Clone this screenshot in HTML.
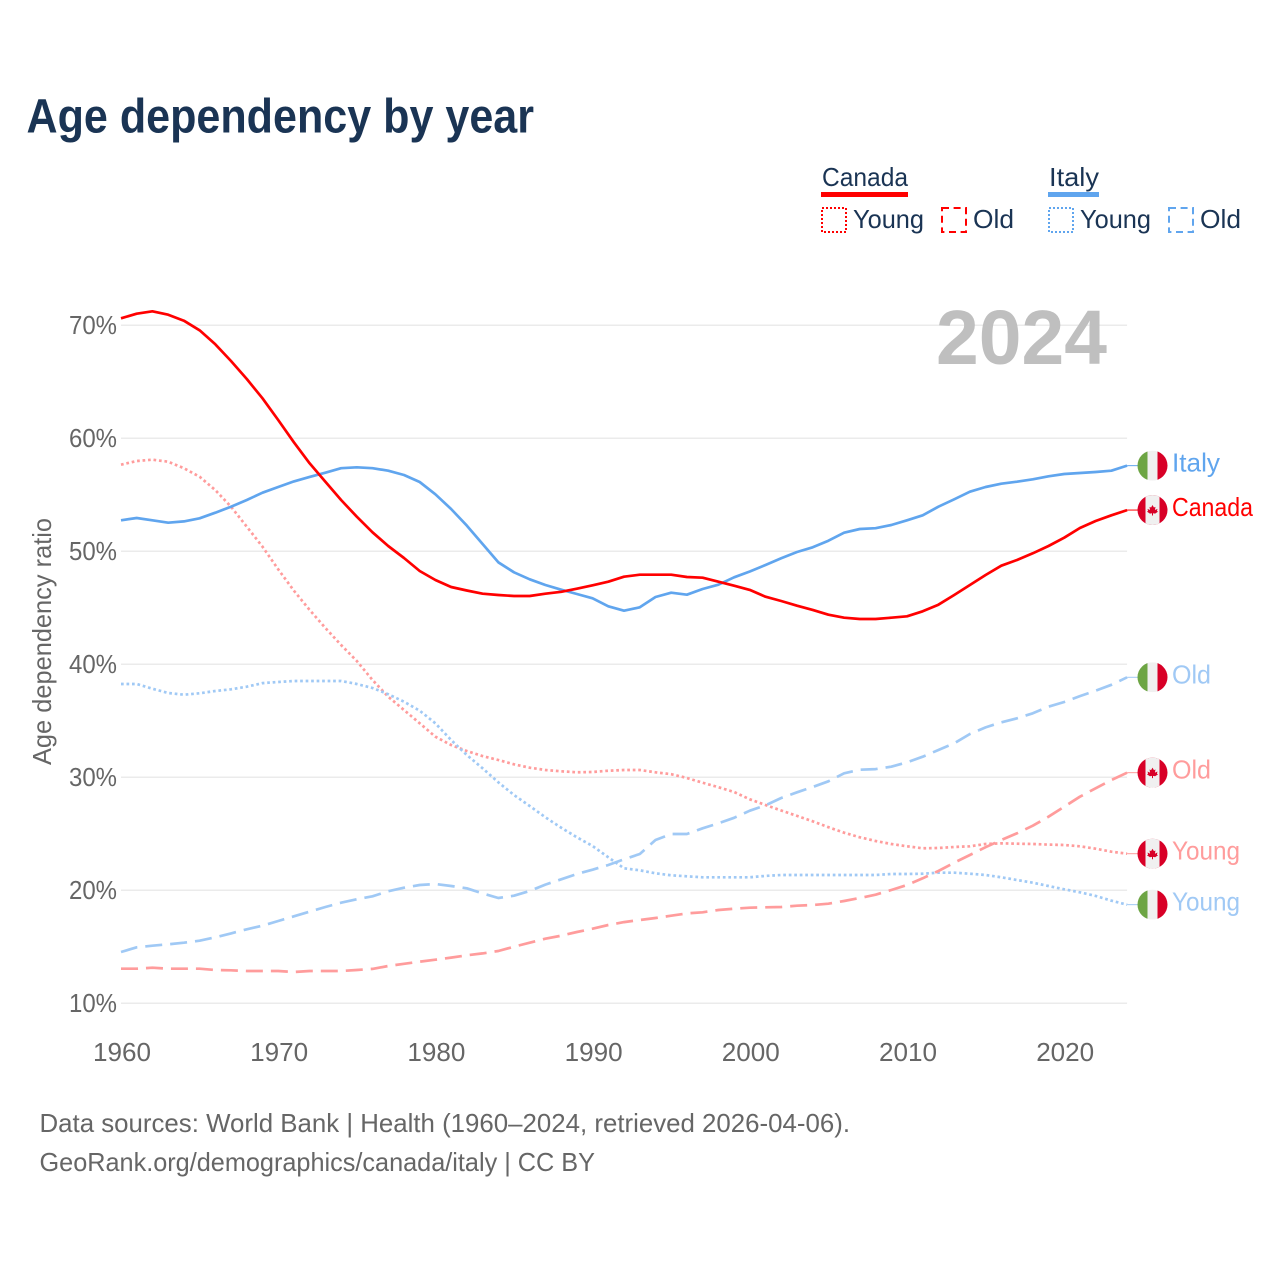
<!DOCTYPE html>
<html lang="en">
<head>
<meta charset="utf-8">
<title>Age dependency by year</title>
<style>
html,body{margin:0;padding:0;background:#fff;width:1280px;height:1280px;overflow:hidden}
svg{display:block;font-family:"Liberation Sans",sans-serif}
</style>
</head>
<body>
<svg id="chart" xmlns="http://www.w3.org/2000/svg" width="1280" height="1280" viewBox="0 0 1280 1280">
  <defs>
    <clipPath id="flag-clip"><circle cx="0" cy="0" r="15"></circle></clipPath>
  </defs>
  <rect x="0" y="0" width="1280" height="1280" fill="#ffffff"></rect>
  <text x="26.5" y="132.5" font-size="48" font-weight="700" fill="#1a3454" textLength="507.5" lengthAdjust="spacingAndGlyphs">Age dependency by year</text>

  <g font-size="26" fill="#1a3454">
    <text x="822" y="186" textLength="86" lengthAdjust="spacingAndGlyphs">Canada</text>
    <rect x="821" y="192" width="87" height="5" fill="#ff0000"></rect>
    <rect x="822" y="208" width="24" height="24" fill="none" stroke="#ff0000" stroke-width="2" stroke-dasharray="2 2"></rect>
    <text x="853" y="228" textLength="71" lengthAdjust="spacingAndGlyphs">Young</text>
    <rect x="942" y="208" width="24" height="24" fill="none" stroke="#ff0000" stroke-width="2" stroke-dasharray="7 4.6"></rect>
    <text x="973" y="228" textLength="41" lengthAdjust="spacingAndGlyphs">Old</text>

    <text x="1049" y="186" textLength="50" lengthAdjust="spacingAndGlyphs">Italy</text>
    <rect x="1048" y="192" width="51" height="5" fill="#60a5ee"></rect>
    <rect x="1049" y="208" width="24" height="24" fill="none" stroke="#60a5ee" stroke-width="2" stroke-dasharray="2 2"></rect>
    <text x="1080" y="228" textLength="71" lengthAdjust="spacingAndGlyphs">Young</text>
    <rect x="1169" y="208" width="24" height="24" fill="none" stroke="#60a5ee" stroke-width="2" stroke-dasharray="7 4.6"></rect>
    <text x="1200" y="228" textLength="41" lengthAdjust="spacingAndGlyphs">Old</text>
  </g>

  <g id="grid"></g>
  <text x="936" y="364" font-size="77" font-weight="700" fill="#bfbfbf" textLength="171" lengthAdjust="spacingAndGlyphs">2024</text>
  <g id="y-ticks"></g>
  <g id="x-ticks"></g>
  <text x="51" y="765" transform="rotate(-90 51 765)" font-size="26" fill="#666666" textLength="247" lengthAdjust="spacingAndGlyphs">Age dependency ratio</text>
  <g id="series"></g>
  <g id="ends"></g>

  <text x="39.5" y="1132" font-size="26" fill="#666666" textLength="810.5" lengthAdjust="spacingAndGlyphs">Data sources: World Bank | Health (1960–2024, retrieved 2026-04-06).</text>
  <text x="39.5" y="1171" font-size="26" fill="#666666" textLength="555.5" lengthAdjust="spacingAndGlyphs">GeoRank.org/demographics/canada/italy | CC BY</text>
</svg>
<script>
const startYear = 1960;
const xTickYears = [1960, 1970, 1980, 1990, 2000, 2010, 2020];
const yTickValues = [10, 20, 30, 40, 50, 60, 70];

const canadaTotal = [70.62,71.03,71.24,70.94,70.41,69.56,68.32,66.84,65.25,63.54,61.62,59.65,57.79,56.16,54.54,53.06,51.68,50.47,49.41,48.26,47.46,46.84,46.53,46.25,46.13,46.04,46.04,46.25,46.42,46.69,46.99,47.31,47.75,47.93,47.93,47.93,47.73,47.66,47.31,46.96,46.58,45.98,45.60,45.19,44.81,44.39,44.12,44.01,44.01,44.12,44.25,44.69,45.27,46.13,47.02,47.90,48.73,49.23,49.82,50.47,51.20,52.06,52.68,53.19,53.65];
const italyTotal = [52.74,52.95,52.74,52.53,52.65,52.92,53.42,53.95,54.54,55.19,55.69,56.19,56.58,56.96,57.35,57.43,57.35,57.13,56.75,56.13,55.04,53.74,52.27,50.65,49.03,48.14,47.52,47.02,46.60,46.22,45.84,45.13,44.74,45.04,45.96,46.34,46.16,46.66,47.04,47.70,48.21,48.79,49.38,49.94,50.35,50.94,51.65,51.97,52.04,52.33,52.74,53.19,53.95,54.60,55.27,55.69,55.98,56.16,56.37,56.64,56.84,56.93,57.02,57.13,57.58];
const canadaYoung = [57.66,57.99,58.11,57.93,57.35,56.60,55.42,53.95,52.18,50.41,48.41,46.51,44.81,43.21,41.71,40.29,38.61,37.13,35.96,34.78,33.59,32.86,32.33,31.88,31.53,31.15,30.85,30.65,30.53,30.44,30.47,30.58,30.65,30.65,30.44,30.27,29.94,29.52,29.12,28.70,28.05,27.55,27.06,26.58,26.11,25.58,25.10,24.69,24.36,24.10,23.89,23.72,23.74,23.83,23.89,24.10,24.16,24.12,24.10,24.04,24.01,23.89,23.68,23.42,23.24];
const canadaOld = [13.06,13.06,13.15,13.06,13.06,13.06,12.95,12.92,12.86,12.86,12.86,12.77,12.86,12.86,12.86,12.95,13.04,13.30,13.50,13.68,13.86,14.04,14.25,14.42,14.63,15.01,15.36,15.72,15.98,16.31,16.60,16.93,17.19,17.37,17.55,17.75,17.96,18.05,18.26,18.37,18.46,18.50,18.52,18.64,18.70,18.81,19.05,19.32,19.61,20.03,20.47,21.06,21.71,22.44,23.12,23.81,24.45,25.04,25.72,26.51,27.40,28.28,29.03,29.76,30.41];
const italyYoung = [38.26,38.26,37.84,37.46,37.31,37.43,37.64,37.79,38.02,38.34,38.43,38.52,38.52,38.52,38.52,38.26,37.90,37.35,36.69,35.89,34.78,33.30,31.97,30.80,29.56,28.43,27.46,26.46,25.54,24.69,23.92,22.92,21.95,21.77,21.50,21.33,21.24,21.15,21.15,21.15,21.15,21.27,21.35,21.35,21.35,21.35,21.35,21.35,21.35,21.44,21.44,21.47,21.56,21.56,21.47,21.35,21.15,20.91,20.67,20.38,20.09,19.82,19.50,19.08,18.73];
const italyOld = [14.54,14.96,15.10,15.22,15.36,15.54,15.84,16.19,16.55,16.87,17.28,17.70,18.11,18.52,18.90,19.20,19.47,19.91,20.23,20.47,20.56,20.38,20.18,19.73,19.32,19.52,19.94,20.50,20.97,21.44,21.82,22.24,22.74,23.21,24.45,24.98,24.98,25.49,25.93,26.42,27.04,27.52,28.17,28.67,29.14,29.65,30.35,30.67,30.73,30.94,31.33,31.82,32.42,33.01,33.83,34.42,34.87,35.22,35.66,36.25,36.66,37.19,37.66,38.19,38.85];

const NS = 'http://www.w3.org/2000/svg';
const xScale = function (year) { return 121 + (year - startYear) * 15.72; };
const yScale = function (v) { return 1003.3 - (v - 10) * 11.3; };
const make = function (parent, tag, attrs, text) {
  const el = document.createElementNS(NS, tag);
  Object.keys(attrs).forEach(function (k) { el.setAttribute(k, attrs[k]); });
  if (text !== undefined) el.textContent = text;
  parent.appendChild(el);
  return el;
};

const gridGroup = document.getElementById('grid');
const yTickGroup = document.getElementById('y-ticks');
yTickValues.forEach(function (v) {
  const line = make(gridGroup, 'line', {x1: xScale(startYear), x2: xScale(2024), y1: yScale(v), y2: yScale(v), stroke: '#ebebeb', 'stroke-width': 1.5});
  
  
  const label = make(yTickGroup, 'text', {x: 69, y: yScale(v) + 8.5, 'font-size': 26, fill: '#666666', textLength: 48, lengthAdjust: 'spacingAndGlyphs'}, v + '%');
  
  
});

const xTickGroup = document.getElementById('x-ticks');
xTickYears.forEach(function (year) {
  const label = make(xTickGroup, 'text', {x: xScale(year) - 28, y: 1061, 'font-size': 26, fill: '#666666', textLength: 58, lengthAdjust: 'spacingAndGlyphs'}, String(year));
  
  
});

const seriesList = [
  {key: 'canada-young', values: canadaYoung, color: '#ff9c9c', dash: '2.7 2.8', label: 'Young', flag: 'canada', width: 68},
  {key: 'italy-young', values: italyYoung, color: '#a0c9f5', dash: '2.7 2.8', label: 'Young', flag: 'italy', width: 68},
  {key: 'canada-old', values: canadaOld, color: '#ff9c9c', dash: '17 8', label: 'Old', flag: 'canada', width: 39},
  {key: 'italy-old', values: italyOld, color: '#a0c9f5', dash: '17 8', label: 'Old', flag: 'italy', width: 39},
  {key: 'italy-total', values: italyTotal, color: '#60a5ee', dash: 'none', label: 'Italy', flag: 'italy', width: 48},
  {key: 'canada-total', values: canadaTotal, color: '#ff0000', dash: 'none', label: 'Canada', flag: 'canada', width: 81}
];

const drawFlag = function (parent, kind, cy) {
  const g = make(parent, 'g', {transform: 'translate(1152.5 ' + cy + ')', 'clip-path': 'url(#flag-clip)'});
  if (kind === 'italy') {
    make(g, 'rect', {x: -15, y: -15, width: 30, height: 30, fill: '#f0f0f0'});
    make(g, 'rect', {x: -15, y: -15, width: 10, height: 30, fill: '#6da544'});
    make(g, 'rect', {x: 5, y: -15, width: 10, height: 30, fill: '#d80027'});
  } else {
    make(g, 'rect', {x: -15, y: -15, width: 30, height: 30, fill: '#d80027'});
    make(g, 'rect', {x: -7, y: -15, width: 14, height: 30, fill: '#f0f0f0'});
    make(g, 'polygon', {fill: '#d80027', points: '0,-5 1.4,-2.6 3,-3.2 2.4,0 5,-1.2 4.4,1 5.6,1.6 2.6,3.6 0.5,3.2 0.5,5.5 -0.5,5.5 -0.5,3.2 -2.6,3.6 -5.6,1.6 -4.4,1 -5,-1.2 -2.4,0 -3,-3.2 -1.4,-2.6'});
  }
  return g;
};

const seriesGroup = document.getElementById('series');
const endsGroup = document.getElementById('ends');
seriesList.forEach(function (s) {
  const pts = s.values.map(function (v, i) { return xScale(startYear + i).toFixed(1) + ',' + yScale(v).toFixed(1); }).join(' ');
  const line = make(seriesGroup, 'polyline', {points: pts, fill: 'none', stroke: s.color, 'stroke-width': 2.7, 'stroke-dasharray': s.dash, 'stroke-linejoin': 'round'});
  
  

  const lastY = yScale(s.values[s.values.length - 1]);
  const connector = make(endsGroup, 'line', {x1: xScale(2024), x2: 1138, y1: lastY, y2: lastY, stroke: s.color, 'stroke-width': 1});
  
  

  const flag = drawFlag(endsGroup, s.flag, lastY);
  
  

  const label = make(endsGroup, 'text', {x: 1172, y: lastY + 6, 'font-size': 26, fill: s.color, textLength: s.width, lengthAdjust: 'spacingAndGlyphs'}, s.label);
  
  
});
</script>
</body>
</html>
